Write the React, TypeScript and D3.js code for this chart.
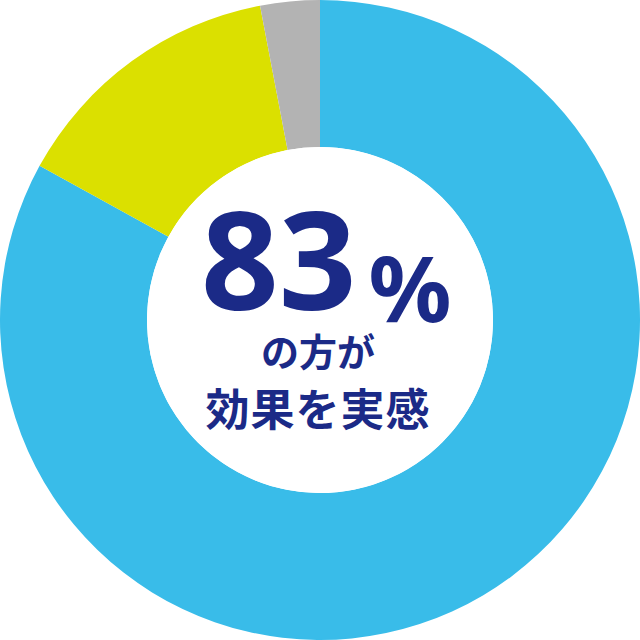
import React from 'react';
import * as d3 from 'd3';

// slice shares, clockwise from 12 o'clock
const labels = ['効果を実感', 'どちらともいえない', '実感なし'];
const values = [83, 14, 3];
const colors = ['#39BCE9', '#DBE000', '#B3B3B3'];

const headline = '83';
const unit = '%';
const captionLines = ['の方が', '効果を実感'];

const width = 640;
const height = 640;
const outerR = 320;
const innerR = 173;
const navy = '#1B2A87';

export default function App() {
  const pie = d3.pie<number>().sort(null).value(d => d);
  const arcs = pie(values);
  const arc = d3.arc<d3.PieArcDatum<number>>().innerRadius(innerR).outerRadius(outerR);

  return (
    <div style={{ position: 'fixed', left: 0, top: 0 }}>
      <svg width={width} height={height} style={{ display: 'block', background: '#fff' }}>
        <g transform={`translate(${width / 2},${height / 2})`}>
          {arcs.map((a, i) => (
            <path key={labels[i]} d={arc(a) || ''} fill={colors[i]} />
          ))}
          <circle r={innerR} fill="#fff" />
          <text
            x={-119}
            y={-10}
            fill={navy}
            fontFamily="'Noto Sans', sans-serif"
            fontWeight={700}
            fontSize={136}
          >
            {headline}
            <tspan fontSize={92} dx={12} dy={12}>{unit}</tspan>
          </text>
          {captionLines.map((t, i) => (
            <text
              key={t}
              x={-2}
              y={46 + i * 60}
              textAnchor="middle"
              fill={navy}
              fontFamily="'Noto Sans CJK JP', sans-serif"
              fontWeight={700}
              fontSize={i === 0 ? 38 : 44}
              letterSpacing={i === 0 ? 0 : 1}
            >
              {t}
            </text>
          ))}
        </g>
      </svg>
    </div>
  );
}
